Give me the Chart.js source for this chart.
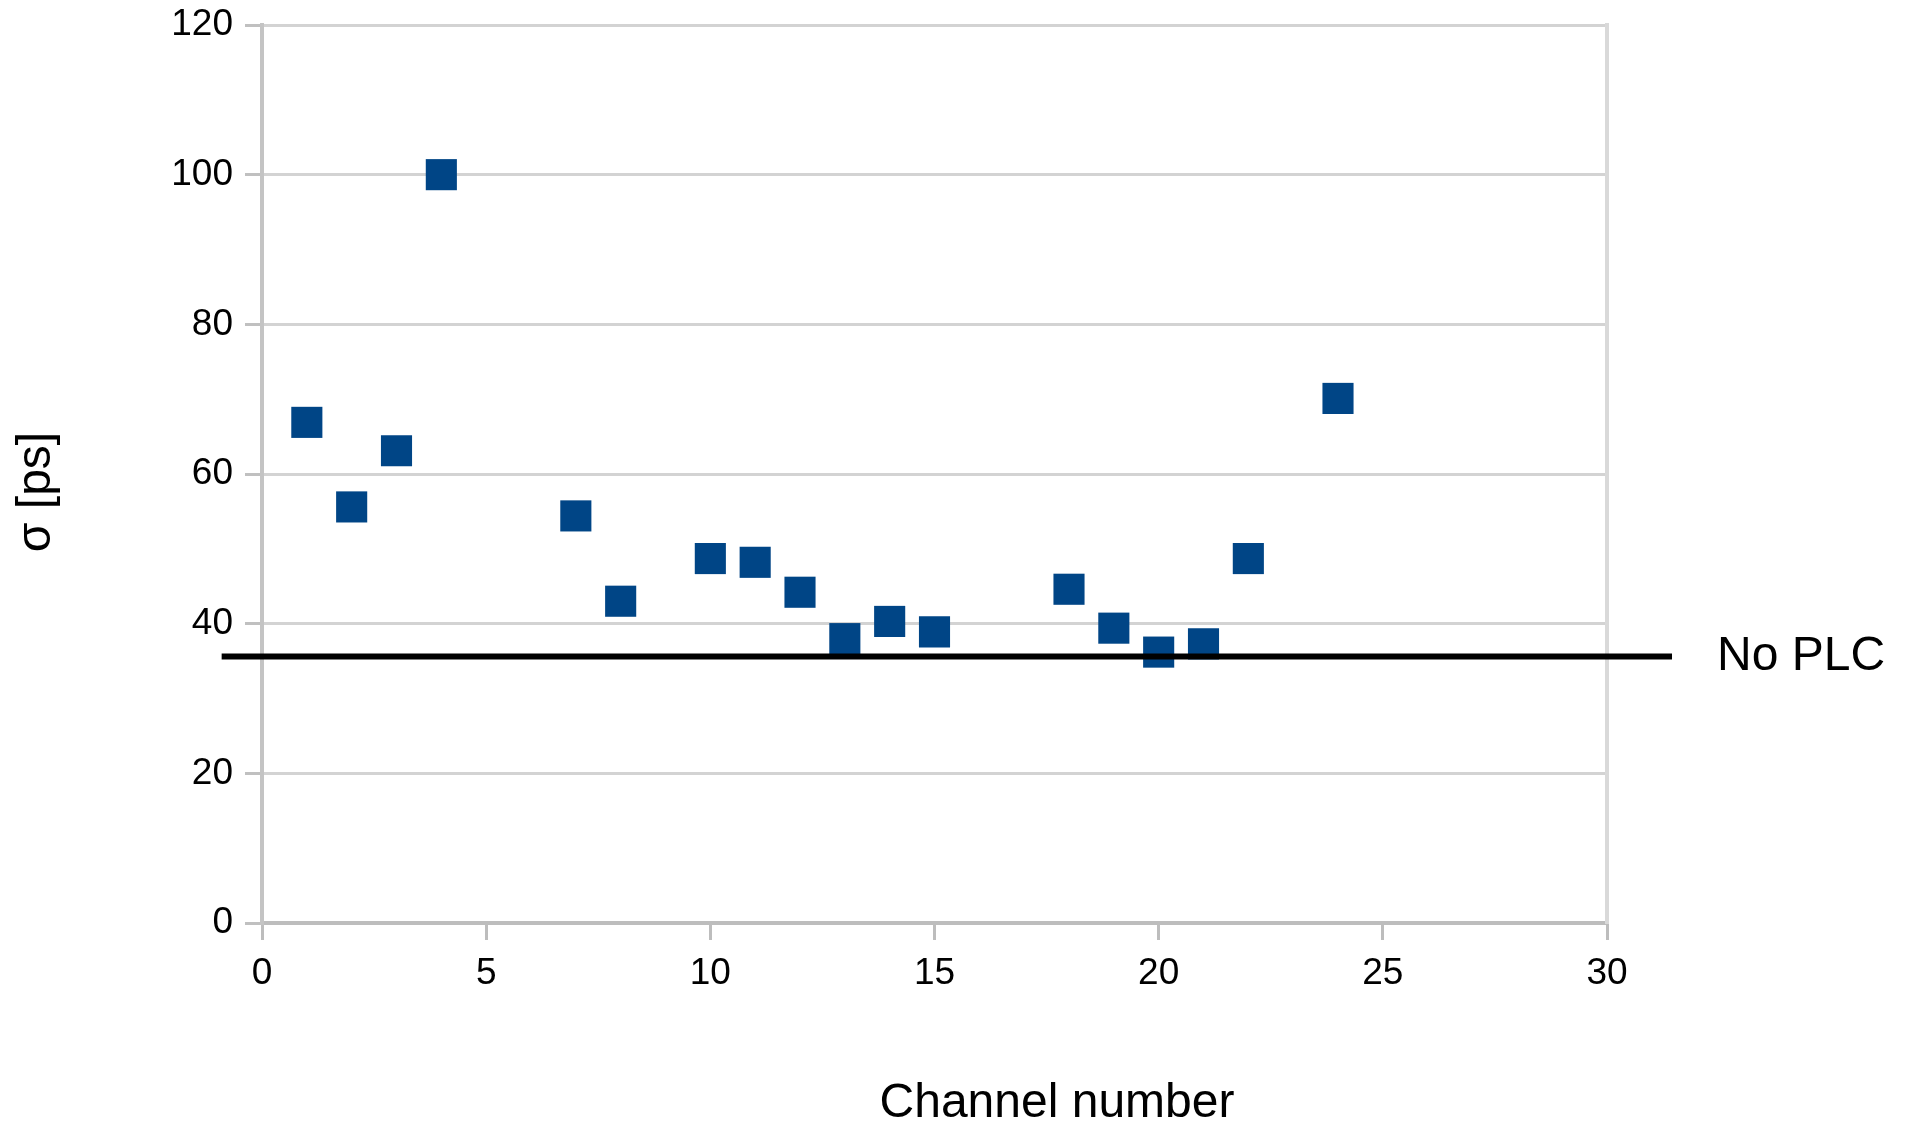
<!DOCTYPE html>
<html>
<head>
<meta charset="utf-8">
<title>Timing resolution per channel</title>
<script src="https://cdn.jsdelivr.net/npm/chart.js@4.4.0/dist/chart.umd.min.js"></script>
<style>
    body { margin: 0; background: #ffffff; }
    #chart { display: block; }
</style>
</head>
<body>
<canvas id="chart" width="1905" height="1127"></canvas>
<script>
// Measured resolution per channel
const channels = [1, 2, 3, 4, 7, 8, 10, 11, 12, 13, 14, 15, 18, 19, 20, 21, 22, 24];
const sigmaPs = [66.9, 55.6, 63.1, 100, 54.4, 43.0, 48.7, 48.2, 44.2, 38.0, 40.3, 38.9, 44.6, 39.4, 36.2, 37.3, 48.7, 70.1];

// Reference level without PLC (horizontal line, runs past the plot edges)
const noPlcLevel = 35.6;
const noPlcSpan = [-0.9, 31.45];
const noPlcLabel = 'No PLC';

const xTitle = 'Channel number';
const yTitle = 'σ [ps]';

const FONT = '"Liberation Sans", Arial, sans-serif';

// axis titles are placed like the original (centred on the whole drawing, not the plot)
const axisTitles = {
    id: 'axisTitles',
    afterDraw(chart) {
        const ctx = chart.ctx;
        ctx.save();
        ctx.fillStyle = '#000000';
        ctx.font = '48px ' + FONT;
        ctx.textAlign = 'center';
        ctx.textBaseline = 'alphabetic';
        ctx.fillText(xTitle, 1057, 1117);
        ctx.translate(50, 492);
        ctx.rotate(-Math.PI / 2);
        ctx.fillText(yTitle, 0, 0);
        ctx.restore();
    }
};

new Chart(document.getElementById('chart').getContext('2d'), {
    type: 'scatter',
    data: {
        datasets: [
            {
                label: noPlcLabel,
                data: noPlcSpan.map(x => ({ x: x, y: noPlcLevel })),
                showLine: true,
                borderColor: '#000000',
                borderWidth: 6,
                pointRadius: 0,
                clip: false,
                order: 0
            },
            {
                label: yTitle,
                data: channels.map((c, i) => ({ x: c, y: sigmaPs[i] })),
                pointStyle: 'rect',
                pointRadius: 22,
                pointHoverRadius: 22,
                backgroundColor: '#004586',
                borderColor: '#004586',
                borderWidth: 0,
                order: 1
            }
        ]
    },
    options: {
        responsive: false,
        animation: false,
        layout: {
            padding: { top: 25, left: 0, right: 0, bottom: 0 }
        },
        scales: {
            x: {
                type: 'linear',
                min: 0,
                max: 30,
                afterFit: scale => { scale.height = 204; },
                ticks: {
                    stepSize: 5,
                    color: '#000000',
                    padding: 12,
                    maxRotation: 0,
                    font: { family: FONT, size: 37 }
                },
                grid: {
                    drawOnChartArea: false,
                    tickLength: 17,
                    tickColor: '#bdbdbd',
                    lineWidth: 3
                },
                border: { color: '#bdbdbd', width: 4 }
            },
            y: {
                min: 0,
                max: 120,
                afterFit: scale => {
                    scale.width = 262;
                    scale.paddingTop = 0;
                    scale.paddingBottom = 0;
                },
                ticks: {
                    stepSize: 20,
                    color: '#000000',
                    padding: 12,
                    font: { family: FONT, size: 37 }
                },
                grid: {
                    color: '#d3d3d3',
                    lineWidth: 3,
                    tickLength: 17,
                    tickColor: '#c0c0c0'
                },
                border: { color: '#c4c4c4', width: 4 }
            },
            y2: {
                position: 'right',
                min: 0,
                max: 120,
                afterFit: scale => {
                    scale.width = 298;
                    scale.paddingTop = 0;
                    scale.paddingBottom = 0;
                },
                afterBuildTicks: scale => { scale.ticks = [{ value: noPlcLevel }]; },
                ticks: {
                    color: '#000000',
                    padding: 10,
                    callback: () => noPlcLabel,
                    font: { family: FONT, size: 48 }
                },
                grid: { display: false, drawTicks: true, tickLength: 100 },
                border: { color: '#d9d9d9', width: 4 }
            }
        },
        plugins: {
            legend: { display: false },
            tooltip: { enabled: false }
        }
    },
    plugins: [axisTitles]
});
</script>
</body>
</html>
